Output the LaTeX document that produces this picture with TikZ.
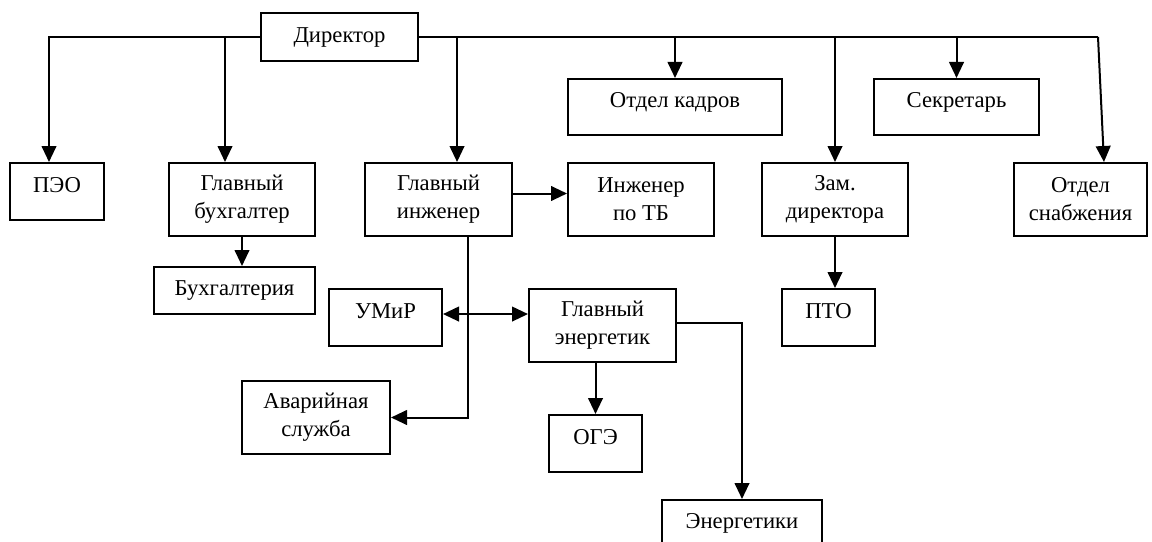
\documentclass[tikz,border=0pt]{standalone}
\usepackage{fontspec}
\setmainfont{Liberation Serif}
\usetikzlibrary{arrows.meta,positioning}
\tikzset{
 box/.style={draw, line width=1.5pt, align=center, inner sep=0pt,
  font=\fontsize{17}{21}\selectfont},
 single/.style={text height=0.7em, text depth=0.55em},
 ln/.style={line width=1.5pt},
 arr/.style={ln, -{Triangle[length=12pt,width=11pt]}},
 dblarr/.style={ln, {Triangle[length=12pt,width=11pt]}-{Triangle[length=12pt,width=11pt]}}
}
\begin{document}
\begin{tikzpicture}[x=0.75pt,y=-0.75pt]
\useasboundingbox (0,0) rectangle (1152,542);
\clip (0,0) rectangle (1152,542);
\node[box, minimum width=117.75pt, minimum height=36pt] (dir) at (339.5,37) {Директор};
\node[box, single, minimum width=70.5pt, minimum height=42.75pt] (peo) at (57,191.5) {ПЭО};
\node[box, minimum width=109.5pt, minimum height=54.75pt] (gbuh) at (242,199.5) {Главный\\бухгалтер};
\node[box, minimum width=110.25pt, minimum height=54.75pt] (ginzh) at (438.5,199.5) {Главный\\инженер};
\node[box, single, minimum width=160.5pt, minimum height=42pt] (kadr) at (675,107) {Отдел кадров};
\node[box, minimum width=109.5pt, minimum height=54.75pt] (tb) at (641,199.5) {Инженер\\по ТБ};
\node[box, minimum width=109.5pt, minimum height=54.75pt] (zam) at (835,199.5) {Зам.\\директора};
\node[box, single, minimum width=123.75pt, minimum height=42pt] (sekr) at (956.5,107) {Секретарь};
\node[box, minimum width=99.75pt, minimum height=54.75pt] (snab) at (1080.5,199.5) {Отдел\\снабжения};
\node[box, minimum width=120.75pt, minimum height=35.25pt] (buh) at (234.5,290.5) {Бухгалтерия};
\node[box, single, minimum width=84.75pt, minimum height=42.75pt] (umir) at (385.5,317.5) {УМиР};
\node[box, minimum width=110.25pt, minimum height=54.75pt] (gen) at (602.5,325.5) {Главный\\энергетик};
\node[box, single, minimum width=69.75pt, minimum height=42.75pt] (pto) at (828.5,317.5) {ПТО};
\node[box, minimum width=111pt, minimum height=54.75pt] (avar) at (316,417.5) {Аварийная\\служба};
\node[box, single, minimum width=69.75pt, minimum height=42.75pt] (oge) at (595.5,443.5) {ОГЭ};
\node[box, minimum width=120pt, minimum height=35.25pt] (energ) at (742,523.5) {Энергетики};
\coordinate (right) at (1098,37);
% from director
\draw[arr] (dir.west) -| ([xshift=-6pt]peo.north);
\draw[arr] ([xshift=-12.75pt]gbuh.north |- dir.west) -- ([xshift=-12.75pt]gbuh.north);
\draw[arr] ([xshift=13.9pt]ginzh.north |- dir.east) -- ([xshift=13.9pt]ginzh.north);
\draw[ln] (dir.east) -- (right);
\draw[arr] (right) -- ([xshift=17.6pt]snab.north);
\foreach \n in {kadr,zam,sekr}
  \draw[arr] (\n.north |- dir.east) -- (\n.north);
% lower levels
\draw[arr] (gbuh.south) -- (gbuh.south |- buh.north);
\draw[arr] ([yshift=4.5pt]ginzh.east) -- ([yshift=4.5pt]tb.west);
\draw[arr] ([xshift=22.1pt]ginzh.south) |- (avar.east);
\draw[dblarr] ([yshift=2.6pt]umir.east) -- ([yshift=2.6pt]umir.east -| gen.west);
\draw[arr] (oge.north |- gen.south) -- (oge.north);
\draw[arr] ([yshift=1.9pt]gen.east) -| (energ.north);
\draw[arr] (zam.south) -- (zam.south |- pto.north);
\end{tikzpicture}
\end{document}
